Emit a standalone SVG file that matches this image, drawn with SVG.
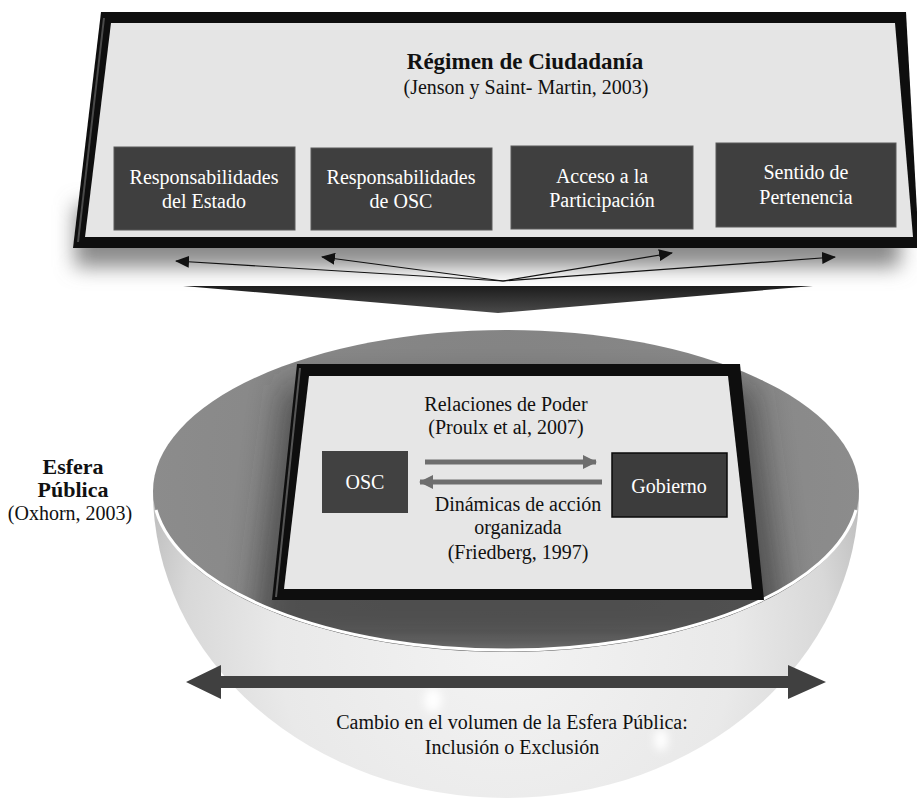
<svg xmlns="http://www.w3.org/2000/svg" width="917" height="804" viewBox="0 0 917 804">
<style>
  text { font-size: 20px; text-anchor: middle; }
  .dark { fill: #3f3f3f; stroke: #5a5a5a; stroke-width: 1; }
  .wt { fill: #ffffff; }
  .bk { fill: #111111; }
  .bold { font-weight: bold; font-size: 22px; }
  .title { font-size: 23px; }
  .thin { stroke: #111; stroke-width: 1.2; fill: none; marker-end: url(#thinHead); }
  .fat { stroke: #6e6e6e; stroke-width: 5; fill: none; marker-end: url(#fatHead); }
</style>
<defs>
  <marker id="thinHead" markerUnits="userSpaceOnUse" markerWidth="14" markerHeight="12" viewBox="0 0 14 12" refX="13" refY="6" orient="auto">
    <path d="M0,0 L14,6 L0,12 Z" fill="#111"/>
  </marker>
  <marker id="fatHead" markerUnits="userSpaceOnUse" markerWidth="14" markerHeight="14" viewBox="0 0 14 14" refX="13" refY="7" orient="auto">
    <path d="M0,0 L14,7 L0,14 Z" fill="#6e6e6e"/>
  </marker>
  <filter id="blur10" x="-20%" y="-50%" width="140%" height="200%"><feGaussianBlur stdDeviation="10"/></filter>
  <filter id="blur16" x="-30%" y="-30%" width="160%" height="160%"><feGaussianBlur stdDeviation="16"/></filter>
  <filter id="blur4" x="-100%" y="-100%" width="300%" height="300%"><feGaussianBlur stdDeviation="4"/></filter>
  <linearGradient id="chev" x1="0" y1="0" x2="0" y2="1">
    <stop offset="0" stop-color="#1c1c1c"/>
    <stop offset="1" stop-color="#4a4a4a"/>
  </linearGradient>
  <radialGradient id="bowlGrad" gradientUnits="userSpaceOnUse" cx="506" cy="640" r="380">
    <stop offset="0" stop-color="#f3f3f3"/>
    <stop offset="0.6" stop-color="#e9e9e9"/>
    <stop offset="0.85" stop-color="#d8d8d8"/>
    <stop offset="1" stop-color="#bcbcbc"/>
  </radialGradient>
  <radialGradient id="topGrad" gradientUnits="userSpaceOnUse" cx="506" cy="470" r="360">
    <stop offset="0" stop-color="#808080"/>
    <stop offset="1" stop-color="#8c8c8c"/>
  </radialGradient>
  <clipPath id="topClip"><ellipse cx="506" cy="491" rx="353" ry="161"/></clipPath>
</defs>

<!-- Régimen de Ciudadanía frame -->
<g id="regimen">
  <rect x="75" y="205" width="825" height="62" fill="#8a8a8a" filter="url(#blur10)"/>
  <polygon points="101,12 906,12 919,248 73,248" fill="#0e0e0e"/>
  <polygon points="111,23 895,23 913,237 85,237" fill="#e5e5e5"/>
  <line x1="104" y1="18" x2="78" y2="242" stroke="#4a4a4a" stroke-width="2"/>
  <text class="bold title bk" font-family="Liberation Serif" x="525" y="69">Régimen de Ciudadanía</text>
  <text class="bk" font-family="Liberation Serif" x="526" y="94">(Jenson y Saint- Martin, 2003)</text>
</g>

<g id="resp-estado">
  <rect class="dark" x="114" y="147" width="181" height="83"/>
  <text class="wt" font-family="Liberation Serif" x="204" y="184">Responsabilidades</text>
  <text class="wt" font-family="Liberation Serif" x="204" y="208">del Estado</text>
</g>
<g id="resp-osc">
  <rect class="dark" x="311" y="148" width="181" height="82"/>
  <text class="wt" font-family="Liberation Serif" x="401" y="184">Responsabilidades</text>
  <text class="wt" font-family="Liberation Serif" x="401" y="208">de OSC</text>
</g>
<g id="acceso">
  <rect class="dark" x="511" y="146" width="182" height="83"/>
  <text class="wt" font-family="Liberation Serif" x="602" y="183">Acceso a la</text>
  <text class="wt" font-family="Liberation Serif" x="602" y="207">Participación</text>
</g>
<g id="sentido">
  <rect class="dark" x="716" y="143" width="180" height="84"/>
  <text class="wt" font-family="Liberation Serif" x="806" y="179">Sentido de</text>
  <text class="wt" font-family="Liberation Serif" x="806" y="204">Pertenencia</text>
</g>

<!-- Chevron -->
<g id="chevron">
  <polygon points="183,286 813,286 498,313" fill="url(#chev)"/>
</g>

<!-- Esfera Pública bowl -->
<g id="esfera">
  <path d="M153,491 A353,307 0 0 0 859,491 Z" fill="url(#bowlGrad)"/>
  <ellipse cx="433" cy="700" rx="9" ry="12" fill="#ffffff" filter="url(#blur4)"/>
  <ellipse cx="661" cy="740" rx="7" ry="11" fill="#ffffff" filter="url(#blur4)"/>
  <ellipse cx="506" cy="491" rx="353" ry="161" fill="url(#topGrad)"/>
  <g clip-path="url(#topClip)">
    <polygon points="285,385 752,385 790,650 250,650" fill="#2a2a2a" opacity="0.6" filter="url(#blur16)"/>
  </g>
  <path d="M156,510 A353,161 0 0 0 856,510" fill="none" stroke="#ffffff" stroke-width="3"/>
</g>

<!-- Inner frame -->
<g id="relaciones">
  <polygon points="297,364 740,364 764,600 272,600" fill="#0e0e0e"/>
  <polygon points="309,376 728,376 752,589 284,589" fill="#e6e6e6"/>
  <line x1="300" y1="368" x2="276" y2="597" stroke="#555" stroke-width="2"/>
  <text class="bk" font-family="Liberation Serif" x="506" y="411">Relaciones de Poder</text>
  <text class="bk" font-family="Liberation Serif" x="506" y="434">(Proulx et al, 2007)</text>
  <text class="bk" font-family="Liberation Serif" x="518" y="511">Dinámicas de acción</text>
  <text class="bk" font-family="Liberation Serif" x="518" y="534">organizada</text>
  <text class="bk" font-family="Liberation Serif" x="518" y="559">(Friedberg, 1997)</text>
</g>

<g id="osc">
  <rect x="322" y="451" width="86" height="62" fill="#414141"/>
  <text class="wt" font-family="Liberation Serif" x="365" y="489">OSC</text>
</g>
<g id="gobierno">
  <rect x="612" y="453" width="115" height="64" fill="#3c3c3c" stroke="#0a0a0a" stroke-width="1.5"/>
  <text class="wt" font-family="Liberation Serif" x="669" y="493">Gobierno</text>
</g>

<!-- Connectors -->
<g id="connectors">
  <line class="thin" x1="503" y1="281" x2="176" y2="261"/>
  <line class="thin" x1="503" y1="281" x2="322" y2="257"/>
  <line class="thin" x1="503" y1="281" x2="672" y2="253"/>
  <line class="thin" x1="503" y1="281" x2="835" y2="257"/>
  <line class="fat" x1="425" y1="462" x2="596" y2="462"/>
  <line class="fat" x1="602" y1="482" x2="420" y2="482"/>
  <polygon points="186,682 221,665 221,676 788,676 788,665 826,682 788,699 788,688 221,688 221,699" fill="#404040"/>
</g>

<g id="cambio">
  <text class="bk" font-family="Liberation Serif" x="512" y="729">Cambio en el volumen de la Esfera Pública:</text>
  <text class="bk" font-family="Liberation Serif" x="512" y="754">Inclusión o Exclusión</text>
</g>

<g id="esfera-label">
  <text class="bold bk" font-family="Liberation Serif" x="73" y="474">Esfera</text>
  <text class="bold bk" font-family="Liberation Serif" x="73" y="497">Pública</text>
  <text class="bk" font-family="Liberation Serif" x="70" y="520">(Oxhorn, 2003)</text>
</g>
</svg>
